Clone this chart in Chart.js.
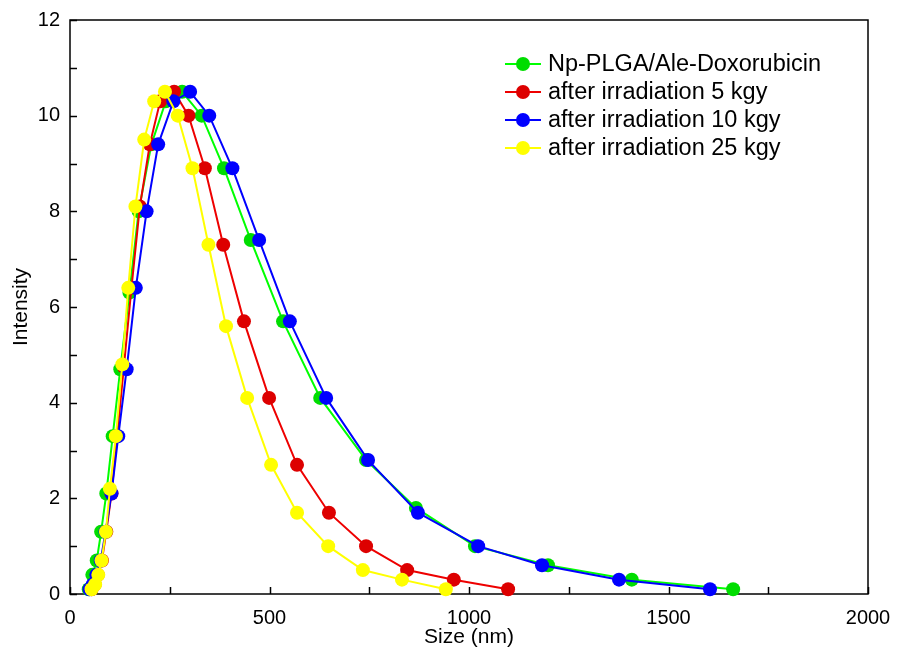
<!DOCTYPE html>
<html>
<head>
<meta charset="utf-8">
<script src="https://cdn.jsdelivr.net/npm/chart.js@4.4.1/dist/chart.umd.min.js"></script>
<style>
    html, body { margin: 0; padding: 0; background: #ffffff; }
    canvas { display: block; }
</style>
</head>
<body>
<canvas id="dlsChart" width="899" height="655"></canvas>
<script>
// Size (nm) / intensity readings for each sample
var sizeNp = [47, 56, 67, 78, 91, 107, 126, 149, 172, 204, 240, 281, 330, 386, 453, 534, 627, 742, 867, 1015, 1198, 1408, 1662];
var intNp  = [0.1, 0.4, 0.7, 1.3, 2.1, 3.3, 4.7, 6.3, 8.0, 9.4, 10.3, 10.5, 10.0, 8.9, 7.4, 5.7, 4.1, 2.8, 1.8, 1.0, 0.6, 0.3, 0.1];

var size5  = [54, 62, 70, 80, 91, 104, 118, 135, 154, 175, 200, 226, 261, 297, 338, 384, 436, 499, 569, 649, 742, 845, 962, 1098];
var int5   = [0.1, 0.2, 0.4, 0.7, 1.3, 2.1, 3.3, 4.75, 6.4, 8.1, 9.4, 10.3, 10.5, 10.0, 8.9, 7.3, 5.7, 4.1, 2.7, 1.7, 1.0, 0.5, 0.3, 0.1];

var size10 = [49, 57, 66, 77, 89, 104, 121, 142, 165, 192, 221, 259, 301, 349, 407, 474, 551, 642, 747, 872, 1023, 1183, 1376, 1604];
var int10  = [0.1, 0.2, 0.4, 0.7, 1.3, 2.1, 3.3, 4.7, 6.4, 8.0, 9.4, 10.3, 10.5, 10.0, 8.9, 7.4, 5.7, 4.1, 2.8, 1.7, 1.0, 0.6, 0.3, 0.1];

var size25 = [54, 63, 71, 79, 90, 100, 115, 131, 146, 164, 186, 211, 238, 270, 307, 347, 391, 444, 504, 569, 647, 734, 832, 942];
var int25  = [0.1, 0.2, 0.4, 0.7, 1.3, 2.2, 3.3, 4.8, 6.4, 8.1, 9.5, 10.3, 10.5, 10.0, 8.9, 7.3, 5.6, 4.1, 2.7, 1.7, 1.0, 0.5, 0.3, 0.1];

var seriesLabels = ['Np-PLGA/Ale-Doxorubicin', 'after irradiation 5 kgy', 'after irradiation 10 kgy', 'after irradiation 25 kgy'];
var lineColors  = ['#00ff00', '#ee0000', '#0000ff', '#ffff00'];
var pointColors = ['#00dd00', '#dd0000', '#0000ff', '#ffff00'];

var xTicks = [0, 500, 1000, 1500, 2000];
var yTicks = [0, 2, 4, 6, 8, 10, 12];

function toPoints(xs, ys) {
    return xs.map(function (x, i) { return { x: x, y: ys[i] }; });
}

var fontFamily = 'Arial, "Liberation Sans", sans-serif';

function makeDataset(i, xs, ys) {
    return {
        label: seriesLabels[i],
        data: toPoints(xs, ys),
        showLine: true,
        borderColor: lineColors[i],
        borderWidth: 2,
        backgroundColor: pointColors[i],
        pointBackgroundColor: pointColors[i],
        pointBorderWidth: 0,
        pointRadius: 7,
        pointHoverRadius: 7,
        clip: false,
        order: 4 - i
    };
}

// axes frame + inward tick marks
var frameTicks = {
    id: 'frameTicks',
    beforeDatasetsDraw: function (chart) {
        var ctx = chart.ctx, a = chart.chartArea;
        var xs = chart.scales.x, ys = chart.scales.y;
        ctx.save();
        ctx.strokeStyle = '#000';
        ctx.lineWidth = 1.5;
        ctx.strokeRect(a.left, a.top, a.right - a.left, a.bottom - a.top);
        ctx.beginPath();
        xs.ticks.forEach(function (t) {
            var px = Math.round(xs.getPixelForValue(t.value)) + 0.5;
            ctx.moveTo(px, a.bottom);
            ctx.lineTo(px, a.bottom - 7);
        });
        ys.ticks.forEach(function (t) {
            var py = Math.round(ys.getPixelForValue(t.value)) + 0.5;
            ctx.moveTo(a.left, py);
            ctx.lineTo(a.left + 7, py);
        });
        ctx.stroke();
        ctx.restore();
    }
};

// legend drawn inside the plot, upper right
var insideLegend = {
    id: 'insideLegend',
    afterDraw: function (chart) {
        var ctx = chart.ctx;
        var x0 = 505, x1 = 541, tx = 548, y0 = 64, dy = 28;
        ctx.save();
        ctx.font = '23.5px ' + fontFamily;
        ctx.textBaseline = 'middle';
        ctx.textAlign = 'left';
        chart.data.datasets.forEach(function (ds, i) {
            var y = y0 + i * dy;
            ctx.strokeStyle = ds.borderColor;
            ctx.lineWidth = 2;
            ctx.beginPath();
            ctx.moveTo(x0, y);
            ctx.lineTo(x1, y);
            ctx.stroke();
            ctx.fillStyle = ds.pointBackgroundColor;
            ctx.beginPath();
            ctx.arc((x0 + x1) / 2, y, 7, 0, Math.PI * 2);
            ctx.fill();
            ctx.fillStyle = '#000';
            ctx.fillText(ds.label, tx, y + 1);
        });
        ctx.restore();
    }
};

var ctx = document.getElementById('dlsChart').getContext('2d');
var chart = new Chart(ctx, {
    type: 'scatter',
    data: {
        datasets: [
            makeDataset(0, sizeNp, intNp),
            makeDataset(1, size5, int5),
            makeDataset(2, size10, int10),
            makeDataset(3, size25, int25)
        ]
    },
    options: {
        responsive: false,
        animation: false,
        devicePixelRatio: 1,
        layout: {
            padding: { top: 20, right: 31, left: 0, bottom: 0 }
        },
        plugins: {
            legend: { display: false },
            tooltip: { enabled: false }
        },
        scales: {
            x: {
                type: 'linear',
                min: 0,
                max: 2000,
                grid: { display: false, drawTicks: false },
                border: { display: false },
                afterFit: function (scale) {
                    scale.height = 61;
                    scale.paddingLeft = 0;
                    scale.paddingRight = 0;
                },
                ticks: {
                    stepSize: 250,
                    autoSkip: false,
                    maxRotation: 0,
                    padding: 12,
                    color: '#000',
                    font: { family: fontFamily, size: 20 },
                    callback: function (v) { return xTicks.indexOf(v) >= 0 ? String(v) : ''; }
                },
                title: {
                    display: true,
                    text: 'Size (nm)',
                    color: '#000',
                    font: { family: fontFamily, size: 21 },
                    padding: { top: 0, bottom: 5 }
                }
            },
            y: {
                type: 'linear',
                min: 0,
                max: 12,
                grid: { display: false, drawTicks: false },
                border: { display: false },
                afterFit: function (scale) {
                    scale.width = 70;
                    scale.paddingTop = 0;
                    scale.paddingBottom = 0;
                },
                ticks: {
                    stepSize: 1,
                    autoSkip: false,
                    padding: 10,
                    color: '#000',
                    font: { family: fontFamily, size: 20 },
                    callback: function (v) { return yTicks.indexOf(v) >= 0 ? String(v) : ''; }
                },
                title: {
                    display: true,
                    text: 'Intensity',
                    color: '#000',
                    font: { family: fontFamily, size: 21 },
                    padding: { top: 9, bottom: 0 }
                }
            }
        }
    },
    plugins: [frameTicks, insideLegend]
});
</script>
</body>
</html>
